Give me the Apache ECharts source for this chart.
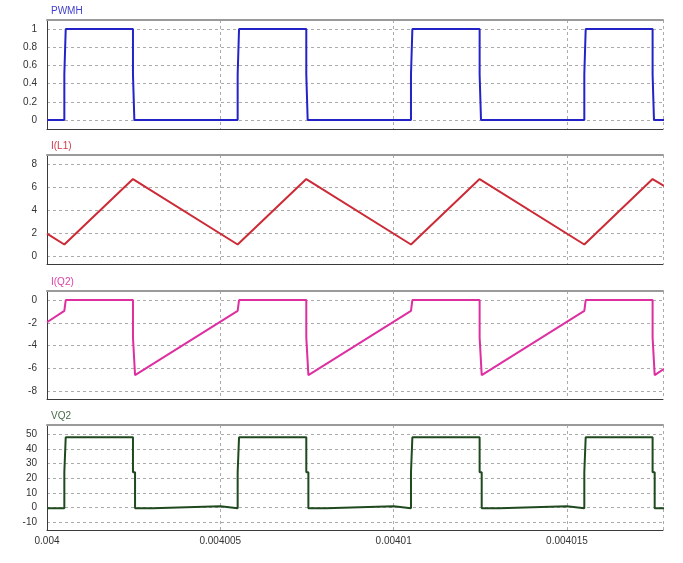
<!DOCTYPE html>
<html>
<head>
<meta charset="utf-8">
<script src="https://cdn.jsdelivr.net/npm/echarts@6/dist/echarts.min.js"></script>
<style>html,body{margin:0;padding:0;background:#fff;}#c{width:683px;height:563px;}</style>
</head>
<body>
<div id="c"></div>
<script>
// ---- data (time in microseconds after 0.004 s) ----
const xTickValues = [0, 5, 10, 15];
const xTickLabels = ['0.004', '0.004005', '0.00401', '0.004015'];
const panelTitles = ['PWMH', 'I(L1)', 'I(Q2)', 'VQ2'];

const pwmhTicks = [0, 0.2, 0.4, 0.6, 0.8, 1];
const il1Ticks = [0, 2, 4, 6, 8];
const iq2Ticks = [-8, -6, -4, -2, 0];
const vq2Ticks = [-10, 0, 10, 20, 30, 40, 50];

const pwmhT = [0, 0.5, 0.5, 0.54, 0.54, 2.48, 2.48, 2.52, 2.52, 5.5, 5.5, 5.54, 5.54, 7.48, 7.48, 7.52, 7.52, 10.5, 10.5, 10.54, 10.54, 12.48, 12.48, 12.52, 12.52, 15.5, 15.5, 15.54, 15.54, 17.47, 17.47, 17.51, 17.51, 17.8];
const pwmhV = [0, 0, 0.5, 0.5, 1, 1, 0.5, 0.5, 0, 0, 0.5, 0.5, 1, 1, 0.5, 0.5, 0, 0, 0.5, 0.5, 1, 1, 0.5, 0.5, 0, 0, 0.5, 0.5, 1, 1, 0.5, 0.5, 0, 0];

const il1T = [0, 0.5, 2.48, 5.5, 7.48, 10.5, 12.48, 15.5, 17.47, 17.8];
const il1V = [1.95, 1.0, 6.7, 1.0, 6.7, 1.0, 6.7, 1.0, 6.7, 6.1];

const iq2T = [0, 0.5, 0.54, 2.48, 2.48, 2.54, 5.5, 5.54, 7.48, 7.48, 7.54, 10.5, 10.54, 12.48, 12.48, 12.54, 15.5, 15.54, 17.47, 17.47, 17.53, 17.8];
const iq2V = [-1.95, -0.95, 0, 0, -3.3, -6.6, -0.95, 0, 0, -3.3, -6.6, -0.95, 0, 0, -3.3, -6.6, -0.95, 0, 0, -3.3, -6.6, -6.05];

const vq2T = [0, 0.5, 0.5, 0.54, 0.54, 2.48, 2.48, 2.54, 2.54, 3.05, 3.05, 5.0, 5.0, 5.5, 5.5, 5.54, 5.54, 7.48, 7.48, 7.54, 7.54, 8.05, 8.05, 10.0, 10.0, 10.5, 10.5, 10.54, 10.54, 12.48, 12.48, 12.54, 12.54, 13.05, 13.05, 15.0, 15.0, 15.5, 15.5, 15.54, 15.54, 17.47, 17.47, 17.53, 17.53, 17.8];
const vq2V = [-0.6, -0.6, 24, 24, 48, 48, 24, 24, -0.6, -0.6, 0.7, 0.7, -0.6, -0.6, 24, 24, 48, 48, 24, 24, -0.6, -0.6, 0.7, 0.7, -0.6, -0.6, 24, 24, 48, 48, 24, 24, -0.6, -0.6, 0.7, 0.7, -0.6, -0.6, 24, 24, 48, 48, 24, 24, -0.6, -0.6];

// ---- layout ----
const X_MAX = 17.77;
const grids = [
  {top: 20, height: 109},
  {top: 155, height: 109},
  {top: 291, height: 108},
  {top: 425, height: 105}
];
const yRanges = [[-0.1, 1.1], [-0.7, 8.8], [-8.7, 0.8], [-15.5, 56.4]];
const yTicks = [pwmhTicks, il1Ticks, iq2Ticks, vq2Ticks];
const colors = ['#2323c8', '#cc2a36', '#de2fa0', '#1f4a1f'];
const titleColors = ['#4040cc', '#cc3a46', '#dd40a8', '#4a6a4a'];
const seriesT = [pwmhT, il1T, iq2T, vq2T];
const seriesV = [pwmhV, il1V, iq2V, vq2V];

const FONT = 'Liberation Sans';
const gridLine = {show: true, lineStyle: {color: '#ababab', type: [3, 3], width: 1}};

const option = {
  animation: false,
  backgroundColor: '#fff',
  title: panelTitles.map((t, i) => ({
    text: t, left: 46, top: grids[i].top - 19,
    textStyle: {fontSize: 10, fontWeight: 'normal', color: titleColors[i], fontFamily: FONT}
  })),
  grid: grids.map(g => ({left: 47, right: 20, top: g.top, height: g.height, containLabel: false})),
  xAxis: [
    ...grids.map((g, i) => ({
      type: 'value', gridIndex: i, min: 0, max: X_MAX, interval: 5,
      axisLine: {show: true, onZero: false, lineStyle: {color: '#3a3a3a', width: 1}},
      axisTick: {show: false},
      axisLabel: {
        show: i === 3, color: '#333', fontSize: 10, fontFamily: FONT, margin: 6,
        showMaxLabel: false,
        formatter: v => { const k = xTickValues.indexOf(v); return k >= 0 ? xTickLabels[k] : ''; }
      },
      splitLine: gridLine
    })),
    ...grids.map((g, i) => ({
      type: 'value', gridIndex: i, min: 0, max: X_MAX, position: 'top',
      axisLine: {show: true, onZero: false, lineStyle: {color: '#9a9a9a', width: 2}},
      axisTick: {show: false}, axisLabel: {show: false}, splitLine: {show: false}
    }))
  ],
  yAxis: grids.map((g, i) => ({
    type: 'value', gridIndex: i, min: yRanges[i][0], max: yRanges[i][1],
    axisLine: {show: true, onZero: false, lineStyle: {color: '#3a3a3a', width: 1}},
    axisTick: {show: false, customValues: yTicks[i]},
    axisLabel: {color: '#333', fontSize: 10, fontFamily: FONT, margin: 10, customValues: yTicks[i]},
    splitLine: gridLine
  })),
  series: seriesT.map((ts, i) => ({
    type: 'line', xAxisIndex: i, yAxisIndex: i,
    data: ts.map((t, k) => [t, seriesV[i][k]]),
    showSymbol: false, symbol: 'none',
    lineStyle: {color: colors[i], width: 2},
    z: 5
  }))
};

const chart = echarts.init(document.getElementById('c'), null, {renderer: 'canvas'});
chart.setOption(option);
</script>
</body>
</html>
